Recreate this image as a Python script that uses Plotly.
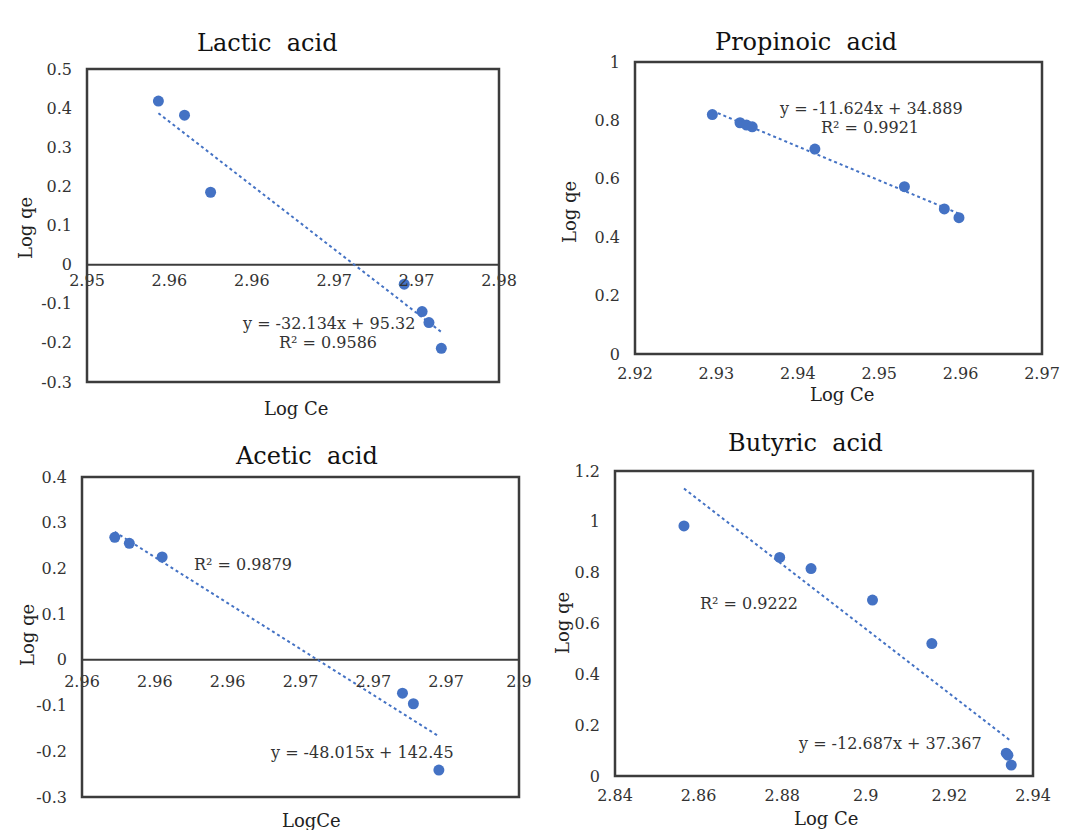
import numpy as np
import plotly.graph_objects as go

W, H = 1067, 830

# ---------------- data ----------------
lactic_x = [2.9552, 2.9571, 2.9590, 2.9731, 2.9744, 2.9749, 2.9758]
lactic_y = [0.418, 0.382, 0.185, -0.050, -0.120, -0.148, -0.214]

propinoic_x = [2.9295, 2.9329, 2.9337, 2.9344, 2.9421, 2.9531, 2.9580, 2.9598]
propinoic_y = [0.820, 0.792, 0.784, 0.778, 0.702, 0.573, 0.497, 0.467]

acetic_x = [2.9609, 2.9613, 2.9622, 2.9688, 2.9691, 2.9698]
acetic_y = [0.268, 0.255, 0.225, -0.073, -0.096, -0.241]

butyric_x = [2.8565, 2.8794, 2.8869, 2.9016, 2.9158, 2.9336, 2.9340, 2.9348]
butyric_y = [0.984, 0.860, 0.816, 0.692, 0.521, 0.090, 0.082, 0.043]

# tick values / labels
lactic_xticks = [2.950, 2.956, 2.962, 2.968, 2.974, 2.980]
lactic_xtext = ["2.95", "2.96", "2.96", "2.97", "2.97", "2.98"]
lactic_yticks = [-0.3, -0.2, -0.1, 0, 0.1, 0.2, 0.3, 0.4, 0.5]
lactic_ytext = ["-0.3", "-0.2", "-0.1", "0", "0.1", "0.2", "0.3", "0.4", "0.5"]

propinoic_xticks = [2.92, 2.93, 2.94, 2.95, 2.96, 2.97]
propinoic_xtext = ["2.92", "2.93", "2.94", "2.95", "2.96", "2.97"]
propinoic_yticks = [0, 0.2, 0.4, 0.6, 0.8, 1.0]
propinoic_ytext = ["0", "0.2", "0.4", "0.6", "0.8", "1"]

acetic_xticks = [2.960, 2.962, 2.964, 2.966, 2.968, 2.970, 2.972]
acetic_xtext = ["2.96", "2.96", "2.96", "2.97", "2.97", "2.97", "2.9"]
acetic_yticks = [-0.3, -0.2, -0.1, 0, 0.1, 0.2, 0.3, 0.4]
acetic_ytext = ["-0.3", "-0.2", "-0.1", "0", "0.1", "0.2", "0.3", "0.4"]

butyric_xticks = [2.84, 2.86, 2.88, 2.90, 2.92, 2.94]
butyric_xtext = ["2.84", "2.86", "2.88", "2.9", "2.92", "2.94"]
butyric_yticks = [0, 0.2, 0.4, 0.6, 0.8, 1.0, 1.2]
butyric_ytext = ["0", "0.2", "0.4", "0.6", "0.8", "1", "1.2"]

titles = ["Lactic  acid", "Propinoic  acid", "Acetic  acid", "Butyric  acid"]
xtitles = ["Log Ce", "Log Ce", "LogCe", "Log Ce"]
ytitle = "Log qe"
equations = ["y = -32.134x + 95.32", "y = -11.624x + 34.889",
             "y = -48.015x + 142.45", "y = -12.687x + 37.367"]
r2_texts = ["R² = 0.9586", "R² = 0.9921", "R² = 0.9879", "R² = 0.9222"]

# ---------------- layout geometry (pixels) ----------------
panels = [
    dict(x=lactic_x, y=lactic_y, xt=lactic_xticks, xtt=lactic_xtext, yt=lactic_yticks, ytt=lactic_ytext,
         box=(87, 499, 69, 382), cross_zero=True, xstand=4,
         title_px=(267, 43), xtitle_px=(296, 408), ytitle_px=(25, 228),
         eq_px=(328, 323), r2_px=(328, 342)),
    dict(x=propinoic_x, y=propinoic_y, xt=propinoic_xticks, xtt=propinoic_xtext, yt=propinoic_yticks, ytt=propinoic_ytext,
         box=(635, 1042, 62, 354), cross_zero=False, xstand=8,
         title_px=(806, 42), xtitle_px=(842, 395), ytitle_px=(569, 212),
         eq_px=(871, 109), r2_px=(870, 128)),
    dict(x=acetic_x, y=acetic_y, xt=acetic_xticks, xtt=acetic_xtext, yt=acetic_yticks, ytt=acetic_ytext,
         box=(82, 519, 477, 797), cross_zero=True, xstand=10,
         title_px=(306, 456), xtitle_px=(311, 820), ytitle_px=(27, 635),
         eq_px=(362, 752), r2_px=(243, 564)),
    dict(x=butyric_x, y=butyric_y, xt=butyric_xticks, xtt=butyric_xtext, yt=butyric_yticks, ytt=butyric_ytext,
         box=(615, 1033, 471, 776), cross_zero=False, xstand=8,
         title_px=(805, 443), xtitle_px=(826, 818), ytitle_px=(562, 623),
         eq_px=(890, 743), r2_px=(749, 603)),
]

FONT = "DejaVu Serif"
BLUE = "#4472C4"
AX = "#3c3c3c"

def px2paper(px, py):
    return px / W, 1 - py / H

fig = go.Figure()
layout = dict(
    width=W, height=H, margin=dict(l=0, r=0, t=0, b=0, pad=0, autoexpand=False),
    paper_bgcolor="white", plot_bgcolor="white", showlegend=False,
    font=dict(family=FONT, color="#222222"),
)
shapes = []
annotations = []

for i, p in enumerate(panels):
    n = "" if i == 0 else str(i + 1)
    xa, ya = "xaxis" + n, "yaxis" + n
    xr, yr = "x" + n, "y" + n
    l, r, t, b = p["box"]
    dx0, dy0 = px2paper(l, b)
    dx1, dy1 = px2paper(r, t)
    xrange = [p["xt"][0], p["xt"][-1]]
    yrange = [p["yt"][0], p["yt"][-1]]

    # trendline from least squares on the data
    xs = np.array(p["x"]); ys = np.array(p["y"])
    k, c = np.polyfit(xs, ys, 1)
    tx = np.array([xs.min(), xs.max()])
    fig.add_trace(go.Scatter(x=tx, y=k * tx + c, mode="lines", xaxis=xr, yaxis=yr,
                             line=dict(color=BLUE, width=2, dash="dot"), hoverinfo="skip"))
    fig.add_trace(go.Scatter(x=p["x"], y=p["y"], mode="markers", xaxis=xr, yaxis=yr,
                             marker=dict(color=BLUE, size=11, line=dict(width=0))))

    xaxis = dict(domain=[dx0, dx1], range=xrange, tickvals=p["xt"], ticktext=p["xtt"],
                 showgrid=False, zeroline=False, showline=False, ticks="", automargin=False,
                 tickfont=dict(family=FONT, size=16, color="#333333"), fixedrange=True,
                 ticklabelstandoff=p["xstand"])
    if p["cross_zero"]:
        pos = dy0 + (0 - yrange[0]) / (yrange[1] - yrange[0]) * (dy1 - dy0)
        xaxis.update(anchor="free", position=pos)
        shapes.append(dict(type="line", xref=xr + " domain", yref=yr, x0=0, x1=1, y0=0, y1=0,
                           line=dict(color=AX, width=2), layer="below"))
    else:
        xaxis.update(anchor=yr)
    yaxis = dict(domain=[dy0, dy1], range=yrange, tickvals=p["yt"], ticktext=p["ytt"],
                 anchor=xr, showgrid=False, zeroline=False, showline=False, ticks="", automargin=False,
                 tickfont=dict(family=FONT, size=16, color="#333333"), fixedrange=True,
                 ticklabelstandoff=14)
    layout[xa] = xaxis
    layout[ya] = yaxis

    shapes.append(dict(type="rect", xref=xr + " domain", yref=yr + " domain", x0=0, x1=1, y0=0, y1=1,
                       line=dict(color=AX, width=2.5), layer="above"))

    tx_, ty_ = px2paper(*p["title_px"])
    annotations.append(dict(text=titles[i], x=tx_, y=ty_, xref="paper", yref="paper",
                            showarrow=False, xanchor="center", yanchor="middle",
                            font=dict(family=FONT, size=24, color="#111111")))
    ax_, ay_ = px2paper(*p["xtitle_px"])
    annotations.append(dict(text=xtitles[i], x=ax_, y=ay_, xref="paper", yref="paper",
                            showarrow=False, xanchor="center", yanchor="middle",
                            font=dict(family=FONT, size=18, color="#222222")))
    yx_, yy_ = px2paper(*p["ytitle_px"])
    annotations.append(dict(text=ytitle, x=yx_, y=yy_, xref="paper", yref="paper", textangle=-90,
                            showarrow=False, xanchor="center", yanchor="middle",
                            font=dict(family=FONT, size=18, color="#222222")))
    ex_, ey_ = px2paper(*p["eq_px"])
    annotations.append(dict(text=equations[i], x=ex_, y=ey_, xref="paper", yref="paper",
                            showarrow=False, xanchor="center", yanchor="middle",
                            font=dict(family=FONT, size=16, color="#333333")))
    rx_, ry_ = px2paper(*p["r2_px"])
    annotations.append(dict(text=r2_texts[i], x=rx_, y=ry_, xref="paper", yref="paper",
                            showarrow=False, xanchor="center", yanchor="middle",
                            font=dict(family=FONT, size=16, color="#333333")))

layout["shapes"] = shapes
layout["annotations"] = annotations
fig.update_layout(**layout)
fig.write_html("out.html")
